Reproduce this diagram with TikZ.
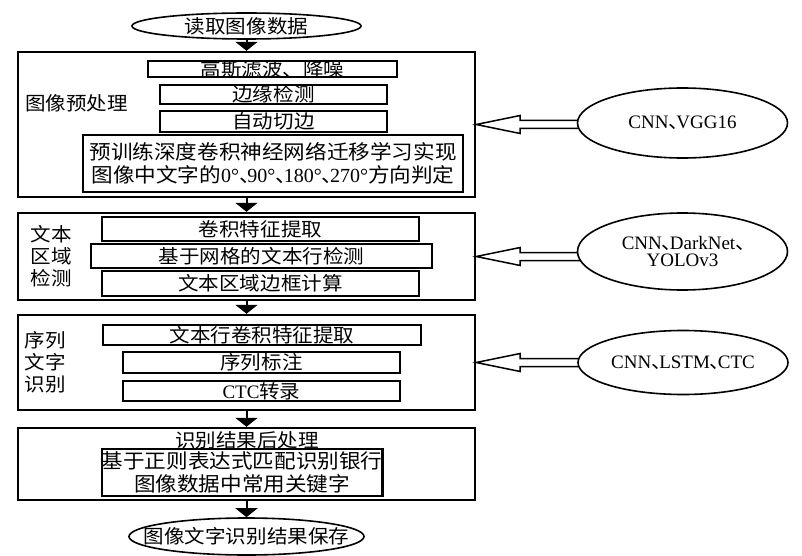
\documentclass[tikz,border=0pt]{standalone}
\usepackage{fontspec}
\setmainfont{Liberation Serif}
\newfontfamily\cjk[FakeStretch=1.08]{Noto Sans CJK SC}
\usetikzlibrary{arrows.meta,shapes.geometric}
\pgfdeclarelayer{bg}
\pgfsetlayers{bg,main}
\newcommand{\dun}{{\cjk\makebox[0.42em][l]{、}}}
\newcommand{\cjkn}{\cjk\fontsize{19}{22}\selectfont}
\newcommand{\cjkb}{\cjk\fontsize{20}{22.5}\selectfont}
\newcommand{\latn}{\rmfamily\fontsize{19}{17.5}\selectfont}
\begin{document}
\begin{tikzpicture}[x=1pt,y=-1pt,
  outerbox/.style={draw, line width=2.4pt, minimum width=457pt, inner sep=0pt},
  innerbox/.style={draw, line width=2.2pt, inner sep=0pt, font=\cjkn, text height=14.4pt, text depth=0pt},
  multibox/.style={draw, line width=2.2pt, inner sep=0pt, align=center, font=\cjkb},
  lbl/.style={inner sep=0pt, align=center, font=\cjkn},
  oval/.style={draw, ellipse, fill=white, line width=1.6pt, inner xsep=-40pt, inner ysep=0pt, font=\cjkn, text height=14.4pt, text depth=0pt},
  tech/.style={draw, ellipse, fill=white, line width=1.6pt, inner xsep=-40pt, inner ysep=0pt, align=center, font=\latn, minimum width=210pt},
  flow/.style={line width=2pt, -{Triangle[width=22pt,length=9pt]}},
  hollow/.style={line width=1.5pt, line join=miter}
]
\useasboundingbox (0,0) rectangle (802,556);

% start / end
\node[oval, minimum width=229pt, minimum height=26pt] (start) at (246.5,26) {读取图像数据};
\node[oval, minimum width=235pt, minimum height=37pt] (stop) at (246.5,536.5) {图像文字识别结果保存};

% block 1
\node[outerbox, minimum height=145pt] (p1) at (246.5,124.5) {};
\node[lbl] (p1t) at (76.5,103) {图像预处理};
\node[innerbox, minimum width=249pt, minimum height=16pt] (p1a) at (272.5,69) {高斯滤波、降噪};
\node[innerbox, minimum width=227pt, minimum height=19pt] (p1b) at (273.5,94.5) {边缘检测};
\node[innerbox, minimum width=227pt, minimum height=21pt] (p1c) at (273.5,121.5) {自动切边};
\node[multibox, minimum width=380pt, minimum height=57pt] (p1d) at (273,163.5)
  {预训练深度卷积神经网络迁移学习实现\\图像中文字的{\rmfamily 0°\dun 90°\dun 180°\dun 270°}方向判定};

% block 2
\node[outerbox, minimum height=87pt] (p2) at (246.5,256.5) {};
\node[lbl] (p2t) at (51,256.5) {文本\\区域\\检测};
\node[innerbox, minimum width=317pt, minimum height=24pt] (p2a) at (260.5,229) {卷积特征提取};
\node[innerbox, minimum width=341pt, minimum height=24pt] (p2b) at (261.5,256) {基于网格的文本行检测};
\node[innerbox, minimum width=317pt, minimum height=25pt] (p2c) at (260.5,283.5) {文本区域边框计算};

% block 3
\node[outerbox, minimum height=95pt] (p3) at (246.5,362.5) {};
\node[lbl] (p3t) at (45,362) {序列\\文字\\识别};
\node[innerbox, minimum width=318pt, minimum height=20pt] (p3a) at (262,335) {文本行卷积特征提取};
\node[innerbox, minimum width=277pt, minimum height=21pt] (p3b) at (261.5,362.5) {序列标注};
\node[innerbox, minimum width=277pt, minimum height=20pt] (p3c) at (261.5,391) {{\rmfamily CTC}转录};

% block 4
\node[outerbox, minimum height=72pt] (p4) at (246.5,464) {};
\node[lbl] (p4t) at (247,440) {识别结果后处理};
\node[multibox, minimum width=270pt, minimum height=47pt] (p4a) at (242,472.5)
  {基于正则表达式匹配识别银行\\图像数据中常用关键字};

% technique ellipses
\node[tech, minimum height=70pt] (e1) at (682.5,123) {CNN\dun VGG16};
\node[tech, minimum height=77pt] (e2) at (682.5,251.5) {CNN\dun DarkNet\dun\\YOLOv3};
\node[tech, minimum height=64pt] (e3) at (683,362.5) {CNN\dun LSTM\dun CTC};

% flow arrows
\draw[flow] (start.south) -- (p1.north);
\draw[flow] (p1.south) -- (p2.north);
\draw[flow] (p2.south) -- (p3.north);
\draw[flow] (p3.south) -- (p4.north);
\draw[flow] (p4.south) -- (stop.north);

% hollow arrows (behind ellipses)
\begin{pgfonlayer}{bg}
\foreach \e/\p in {e1/p1,e2/p2,e3/p3}{
  \draw[hollow] ([shift={(12pt,4pt)}]\e.west |- \p.east) -- ([shift={(44pt,4pt)}]\p.east)
    -- ([shift={(44pt,9pt)}]\p.east) -- (\p.east) -- ([shift={(44pt,-9pt)}]\p.east)
    -- ([shift={(44pt,-4pt)}]\p.east) -- ([shift={(12pt,-4pt)}]\e.west |- \p.east);
}
\end{pgfonlayer}
\end{tikzpicture}
\end{document}
